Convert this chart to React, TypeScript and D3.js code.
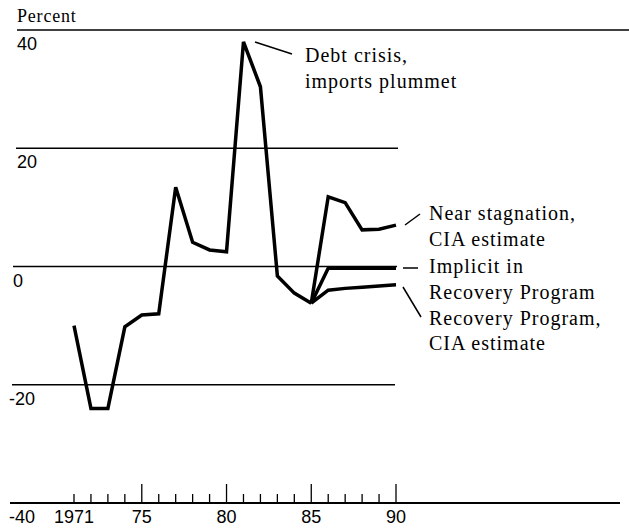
import React from "react";
import * as d3 from "d3";

// historical import growth, percent
const histYears = [1971, 1972, 1973, 1974, 1975, 1976, 1977, 1978, 1979, 1980, 1981, 1982, 1983, 1984, 1985];
const histValues = [-10, -24, -24, -10.2, -8.2, -8, 13.4, 4.1, 2.8, 2.5, 38, 30.4, -1.6, -4.5, -6.2];

// projections 1985-90
const projYears = [1985, 1986, 1987, 1988, 1989, 1990];
const nearStagnation = [-6.2, 11.8, 10.8, 6.2, 6.3, 7.0];
const implicitRecovery = [-6.2, -0.3, -0.3, -0.3, -0.3, -0.3];
const recoveryCIA = [-6.2, -4, -3.7, -3.5, -3.3, -3.1];

const yTicks = [40, 20, 0, -20, -40];
const tickYears = d3.range(1971, 1991);
const labelYears = [1971, 1975, 1980, 1985, 1990];
const labelText = ["1971", "75", "80", "85", "90"];

export default function App() {
    const ref = React.useRef<SVGSVGElement>(null);
    React.useEffect(() => {
        const width = 629;
        const height = 531;
        const svg = d3.select(ref.current);
        svg.selectAll("*").remove();
        svg.attr("width", width).attr("height", height).attr("viewBox", [0, 0, width, height].join(" "));

        const x = d3.scaleLinear().domain([1971, 1990]).range([74, 396]);
        const y = d3.scaleLinear().domain([-40, 40]).range([503, 30]);

        const serif = "'Liberation Serif', 'Times New Roman', serif";
        const sans = "'Liberation Sans', Arial, sans-serif";

        svg.append("rect").attr("width", width).attr("height", height).attr("fill", "#fff");

        // gridlines (each one has its own length in the original)
        const gridExtent: Record<number, [number, number]> = {
            40: [17, 629],
            20: [16, 398],
            0: [13, 397],
            [-20]: [12, 395],
            [-40]: [10, 620],
        };
        svg.append("g")
            .selectAll("line")
            .data(yTicks)
            .join("line")
            .attr("x1", (d) => gridExtent[d][0])
            .attr("x2", (d) => gridExtent[d][1])
            .attr("y1", (d) => y(d))
            .attr("y2", (d) => y(d))
            .attr("stroke", "#000")
            .attr("stroke-width", (d) => (d === -40 ? 1.8 : 1.5));

        // y labels sit under their gridline
        svg.append("g")
            .selectAll("text")
            .data(yTicks)
            .join("text")
            .attr("x", (d) => (d < 0 ? 9 : d === 0 ? 13 : 17))
            .attr("y", (d) => (d === -40 ? 523 : y(d) + 20))
            .attr("font-family", sans)
            .attr("font-size", 18)
            .text((d) => String(d));

        svg.append("text")
            .attr("x", 17)
            .attr("y", 22)
            .attr("font-family", serif)
            .attr("font-size", 18)
            .attr("letter-spacing", 0.8)
            .text("Percent");

        // year ticks on the -40 line
        svg.append("g")
            .selectAll("line")
            .data(tickYears)
            .join("line")
            .attr("x1", (d) => x(d))
            .attr("x2", (d) => x(d))
            .attr("y1", y(-40))
            .attr("y2", (d) => y(-40) - (d % 5 === 0 ? 19 : 9))
            .attr("stroke", "#000")
            .attr("stroke-width", 1.3);

        svg.append("g")
            .selectAll("text")
            .data(labelYears)
            .join("text")
            .attr("x", (d) => x(d))
            .attr("y", 523)
            .attr("text-anchor", "middle")
            .attr("font-family", sans)
            .attr("font-size", 18)
            .text((d, i) => labelText[i]);

        const line = d3
            .line<[number, number]>()
            .x((d) => x(d[0]))
            .y((d) => y(d[1]));

        const series = [
            histYears.map((yr, i) => [yr, histValues[i]] as [number, number]),
            projYears.map((yr, i) => [yr, nearStagnation[i]] as [number, number]),
            projYears.map((yr, i) => [yr, implicitRecovery[i]] as [number, number]),
            projYears.map((yr, i) => [yr, recoveryCIA[i]] as [number, number]),
        ];
        svg.append("g")
            .selectAll("path")
            .data(series)
            .join("path")
            .attr("d", (d) => line(d))
            .attr("fill", "none")
            .attr("stroke", "#000")
            .attr("stroke-width", 3.5)
            .attr("stroke-linejoin", "miter");

        // leader lines
        const leaders = [
            [255, 42, 292, 54],
            [405, 225, 420, 214],
            [403, 268, 418, 268],
            [403, 287, 421, 317],
        ];
        svg.append("g")
            .selectAll("line")
            .data(leaders)
            .join("line")
            .attr("x1", (d) => d[0])
            .attr("y1", (d) => d[1])
            .attr("x2", (d) => d[2])
            .attr("y2", (d) => d[3])
            .attr("stroke", "#000")
            .attr("stroke-width", 1.5);

        const notes = [
            { x: 305, y: 62, t: "Debt crisis," },
            { x: 305, y: 88, t: "imports plummet" },
            { x: 429, y: 220, t: "Near stagnation," },
            { x: 429, y: 246, t: "CIA estimate" },
            { x: 429, y: 273, t: "Implicit in" },
            { x: 429, y: 299, t: "Recovery Program" },
            { x: 429, y: 325, t: "Recovery Program," },
            { x: 429, y: 350, t: "CIA estimate" },
        ];
        svg.append("g")
            .selectAll("text")
            .data(notes)
            .join("text")
            .attr("x", (d) => d.x)
            .attr("y", (d) => d.y)
            .attr("font-family", serif)
            .attr("font-size", 20)
            .attr("letter-spacing", 1)
            .text((d) => d.t);
    }, []);

    return <svg ref={ref} style={{ position: "absolute", left: 0, top: 0 }}></svg>;
}
